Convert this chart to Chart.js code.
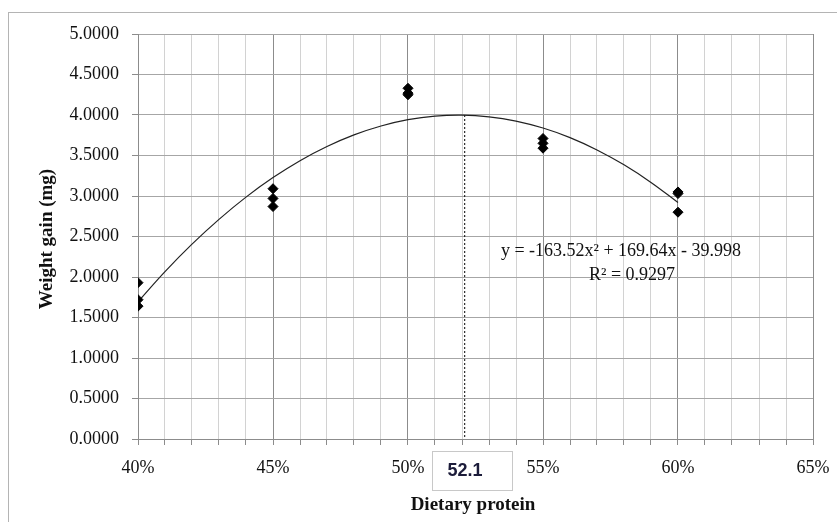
<!DOCTYPE html>
<html>
<head>
<meta charset="utf-8">
<script src="https://cdn.jsdelivr.net/npm/chart.js@4.4.1/dist/chart.umd.min.js"></script>
<style>
  html, body { margin: 0; padding: 0; background: #fff; }
  canvas { display: block; }
</style>
</head>
<body>
<canvas id="chart" width="837" height="522"></canvas>
<script>
// Observed weight gain per dietary protein level (3 replicates each)
const proteinLevels = [0.40, 0.40, 0.40, 0.45, 0.45, 0.45, 0.50, 0.50, 0.50, 0.55, 0.55, 0.55, 0.60, 0.60, 0.60];
const weightGain = [1.93, 1.72, 1.64, 3.09, 2.97, 2.87, 4.33, 4.25, 4.27, 3.71, 3.65, 3.59, 3.05, 3.03, 2.80];

// Polynomial trendline at 1% steps
const trendX = [0.40, 0.41, 0.42, 0.43, 0.44, 0.45, 0.46, 0.47, 0.48, 0.49, 0.50,
                0.51, 0.52, 0.53, 0.54, 0.55, 0.56, 0.57, 0.58, 0.59, 0.60];
const trendY = [1.695, 2.067, 2.406, 2.712, 2.986, 3.227, 3.436, 3.611, 3.754, 3.864, 3.942,
                3.987, 3.999, 3.978, 3.925, 3.839, 3.721, 3.569, 3.385, 3.168, 2.919];

// Optimum marker
const optimumX = 0.521;
const optimumY = 4.0;
const optimumLabel = '52.1';

const equationText = 'y = -163.52x\u00B2 + 169.64x - 39.998';
const r2Text = 'R\u00B2 = 0.9297';

const serif = '"Liberation Serif", "Times New Roman", serif';

const overlayPlugin = {
  id: 'overlay',
  afterDraw(chart) {
    const ctx = chart.ctx;
    ctx.save();

    // outer frame
    ctx.strokeStyle = '#b4b4b4';
    ctx.lineWidth = 1;
    ctx.strokeRect(8.5, 12.5, 840, 520);

    // equation + R²
    ctx.fillStyle = '#111';
    ctx.font = '18px ' + serif;
    ctx.textAlign = 'center';
    ctx.textBaseline = 'middle';
    ctx.fillText(equationText, 621, 251);
    ctx.fillText(r2Text, 632, 275);

    // optimum label box
    ctx.fillStyle = '#fff';
    ctx.fillRect(432, 451, 80, 39);
    ctx.strokeStyle = '#c8c8c8';
    ctx.strokeRect(432.5, 451.5, 80, 39);
    ctx.fillStyle = '#1c1c3a';
    ctx.font = 'bold 18px "Liberation Sans", Arial, sans-serif';
    ctx.fillText(optimumLabel, 465, 471);

    // axis titles
    ctx.fillStyle = '#111';
    ctx.font = 'bold 19px ' + serif;
    ctx.fillText('Dietary protein', 473, 505);
    ctx.translate(47, 239);
    ctx.rotate(-Math.PI / 2);
    ctx.fillText('Weight gain (mg)', 0, 0);

    ctx.restore();
  }
};

const isMajor = v => Math.round(v * 100) % 5 === 0;

new Chart(document.getElementById('chart'), {
  type: 'scatter',
  data: {
    datasets: [
      {
        label: 'Weight gain',
        data: proteinLevels.map((x, i) => ({ x, y: weightGain[i] })),
        pointStyle: 'rectRot',
        pointRadius: 5,
        backgroundColor: '#000',
        borderColor: '#000',
        showLine: false,
        order: 1
      },
      {
        label: 'Trend',
        type: 'line',
        data: trendX.map((x, i) => ({ x, y: trendY[i] })),
        borderColor: '#222',
        borderWidth: 1.2,
        pointRadius: 0,
        tension: 0.4,
        fill: false,
        order: 2
      },
      {
        label: 'Optimum',
        type: 'line',
        data: [{ x: optimumX, y: optimumY }, { x: optimumX, y: 0 }],
        borderColor: '#000',
        borderWidth: 1,
        borderDash: [2, 2],
        pointRadius: 0,
        fill: false,
        order: 3
      }
    ]
  },
  options: {
    responsive: false,
    animation: false,
    devicePixelRatio: 1,
    layout: { padding: { left: 8, top: 34, right: 24, bottom: 0 } },
    plugins: {
      legend: { display: false },
      tooltip: { enabled: false }
    },
    scales: {
      x: {
        type: 'linear',
        min: 0.4,
        max: 0.65,
        afterFit: s => { s.height = 83; s.paddingRight = 0; s.paddingLeft = 0; },
        border: { display: true, color: '#8c8c8c', width: 1 },
        grid: {
          color: c => isMajor(c.tick.value) ? '#8c8c8c' : '#d2d2d2',
          tickColor: '#8c8c8c',
          tickLength: 6
        },
        ticks: {
          stepSize: 0.01,
          autoSkip: false,
          maxRotation: 0,
          padding: 12,
          color: '#111',
          font: { family: serif, size: 18 },
          callback: v => isMajor(v) ? Math.round(v * 100) + '%' : ''
        }
      },
      y: {
        min: 0,
        max: 5,
        afterFit: s => { s.width = 130; s.paddingTop = 0; s.paddingBottom = 0; },
        border: { display: true, color: '#8c8c8c', width: 1 },
        grid: {
          color: '#a6a6a6',
          tickColor: '#8c8c8c',
          tickLength: 6
        },
        ticks: {
          stepSize: 0.5,
          padding: 13,
          color: '#111',
          font: { family: serif, size: 18 },
          callback: v => v.toFixed(4)
        }
      }
    }
  },
  plugins: [overlayPlugin]
});
</script>
</body>
</html>
